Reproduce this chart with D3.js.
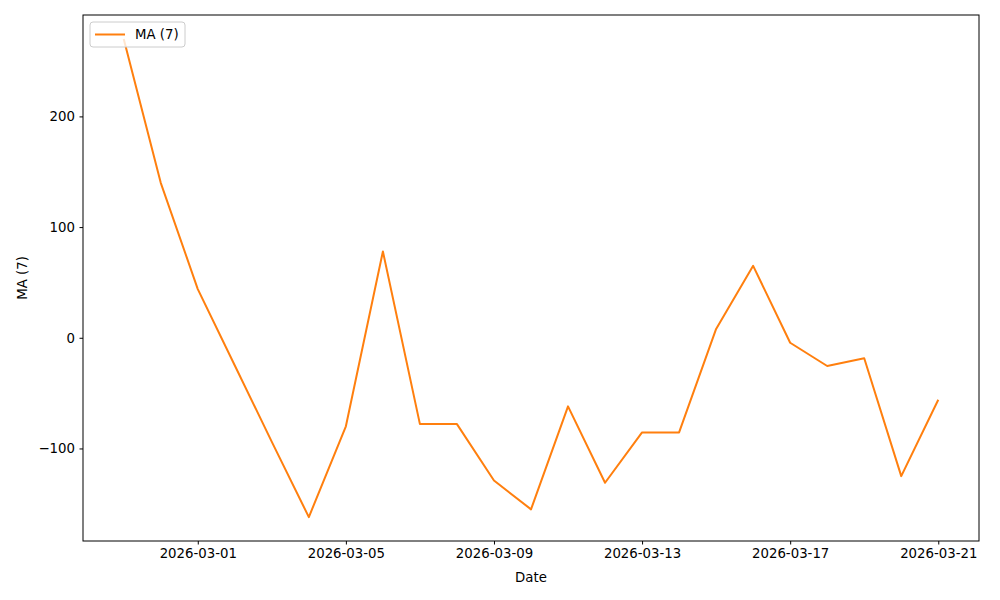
<!DOCTYPE html>
<html>
<head>
<meta charset="utf-8">
<script src="https://cdn.jsdelivr.net/npm/d3@7"></script>
<style>
  body { margin: 0; background: #fff; }
  svg { font-family: "DejaVu Sans", sans-serif; }
</style>
</head>
<body>
<svg width="1000" height="600"></svg>
<script>
// data
const dates = [
  "2026-02-27", "2026-02-28", "2026-03-01", "2026-03-02", "2026-03-03",
  "2026-03-04", "2026-03-05", "2026-03-06", "2026-03-07", "2026-03-08",
  "2026-03-09", "2026-03-10", "2026-03-11", "2026-03-12", "2026-03-13",
  "2026-03-14", "2026-03-15", "2026-03-16", "2026-03-17", "2026-03-18",
  "2026-03-19", "2026-03-20", "2026-03-21"
];
const maValues = [
  270, 140, 44, -25, -94,
  -162, -80, 78, -78, -78,
  -129, -155, -62, -131, -85.5,
  -85.5, 8, 65, -4.5, -25.5,
  -18.5, -125, -56
];
const xTicks = ["2026-03-01", "2026-03-05", "2026-03-09", "2026-03-13", "2026-03-17", "2026-03-21"];
const yTicks = [-100, 0, 100, 200];
const seriesName = "MA (7)";

const parse = d3.utcParse("%Y-%m-%d");
const data = dates.map((d, i) => ({ date: parse(d), value: maValues[i] }));

const svg = d3.select("svg");
const margin = { top: 15, right: 21, bottom: 59, left: 83 };
const width = 1000, height = 600;
const innerWidth = width - margin.left - margin.right;
const innerHeight = height - margin.top - margin.bottom;

// matplotlib-style 5% padding
const xExt = d3.extent(data, d => d.date);
const xPad = (xExt[1] - xExt[0]) * 0.05;
const yExt = d3.extent(data, d => d.value);
const yPad = (yExt[1] - yExt[0]) * 0.05;

const x = d3.scaleUtc()
  .domain([new Date(+xExt[0] - xPad), new Date(+xExt[1] + xPad)])
  .range([0, innerWidth]);
const y = d3.scaleLinear()
  .domain([yExt[0] - yPad, yExt[1] + yPad])
  .range([innerHeight, 0]);

const g = svg.append("g")
  .attr("transform", `translate(${margin.left}, ${margin.top})`);

const xAxis = g.append("g")
  .attr("transform", `translate(0, ${innerHeight})`)
  .call(d3.axisBottom(x)
    .tickValues(xTicks.map(parse))
    .tickFormat(d3.utcFormat("%Y-%m-%d"))
    .tickSize(3.5).tickPadding(4.5));

const yAxis = g.append("g")
  .call(d3.axisLeft(y)
    .tickValues(yTicks)
    .tickFormat(d => d < 0 ? "\u2212" + Math.abs(d) : d)
    .tickSize(3.5).tickPadding(4.5));

[xAxis, yAxis].forEach(ax => {
  ax.select(".domain").remove();
  ax.selectAll("text").attr("font-size", 13.3).attr("fill", "#000")
    .attr("font-family", "DejaVu Sans");
  ax.selectAll("line").attr("stroke", "#000").attr("stroke-width", 1);
});

g.append("path")
  .datum(data)
  .attr("fill", "none")
  .attr("stroke", "#ff7f0e")
  .attr("stroke-width", 2)
  .attr("stroke-linejoin", "round")
  .attr("d", d3.line().x(d => x(d.date)).y(d => y(d.value)));

// frame
g.append("rect")
  .attr("width", innerWidth)
  .attr("height", innerHeight)
  .attr("fill", "none")
  .attr("stroke", "#000")
  .attr("stroke-width", 1);

// axis labels
svg.append("text")
  .attr("x", margin.left + innerWidth / 2)
  .attr("y", 582)
  .attr("text-anchor", "middle")
  .attr("font-size", 13.3)
  .text("Date");

svg.append("text")
  .attr("transform", `translate(27, ${margin.top + innerHeight / 2}) rotate(-90)`)
  .attr("text-anchor", "middle")
  .attr("font-size", 13.3)
  .text(seriesName);

// legend
const legend = g.append("g").attr("transform", "translate(7, 7)");
legend.append("rect")
  .attr("width", 95).attr("height", 25).attr("rx", 3)
  .attr("fill", "#fff").attr("fill-opacity", 0.8)
  .attr("stroke", "#ccc");
legend.append("line")
  .attr("x1", 5).attr("x2", 35).attr("y1", 12.5).attr("y2", 12.5)
  .attr("stroke", "#ff7f0e").attr("stroke-width", 2);
legend.append("text")
  .attr("x", 45).attr("y", 17)
  .attr("font-size", 13.3)
  .text(seriesName);
</script>
</body>
</html>
